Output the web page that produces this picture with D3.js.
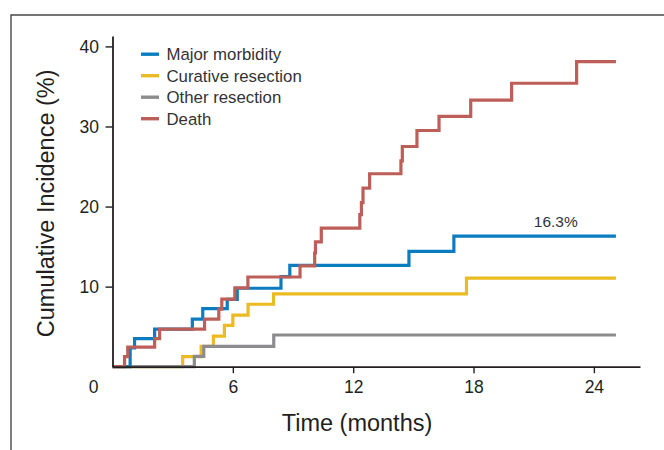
<!DOCTYPE html>
<html>
<head>
<meta charset="utf-8">
<script src="https://cdn.jsdelivr.net/npm/d3@7"></script>
<style>
  html, body { margin: 0; padding: 0; background: #fff; }
  svg { display: block; font-family: "Liberation Sans", Arial, sans-serif; }
</style>
</head>
<body>
<div id="chart"></div>
<script>
// step points [months, cumulative incidence %]
const majorMorbidity = [[0, 0], [0.88, 2.35], [1.1, 3.5], [2.1, 4.7], [3.98, 5.95], [4.5, 7.25],
  [5.72, 8.4], [6.22, 9.8], [8.4, 11.25], [8.84, 12.65], [14.78, 14.4], [17.02, 16.3]]
const curativeResection = [[0, 0], [3.5, 1.27], [4.42, 2.55], [5.03, 3.82], [5.58, 5.15], [6.0, 6.45],
  [6.76, 7.8], [8.03, 9.1], [17.65, 11.05]]
const otherResection = [[0, 0], [4.08, 1.3], [4.55, 2.55], [8.04, 3.96]]
const death = [[0, 0], [0.6, 1.25], [0.76, 2.45], [2.1, 3.5], [2.35, 4.7], [4.59, 5.95], [5.3, 7.2],
  [5.45, 8.45], [6.1, 9.85], [6.75, 11.2], [9.35, 12.6], [10.08, 14.2], [10.12, 15.6], [10.41, 17.3],
  [12.33, 19.0], [12.41, 20.5], [12.49, 22.3], [12.82, 24.1], [14.38, 25.7], [14.45, 27.5],
  [15.18, 29.5], [16.28, 31.25], [17.86, 33.3], [19.9, 35.4], [23.14, 38.1]]
const followUpEnd = 25.1

const seriesNames = ['Major morbidity', 'Curative resection', 'Other resection', 'Death']
const seriesColors = ['#0b7cc0', '#ebbb22', '#8c8c8e', '#bd5f58']
const xTicks = [0, 6, 12, 18, 24]
const yTicks = [10, 20, 30, 40]
const endLabel = '16.3%'

const width = 664, height = 450
const axisColor = '#231f20'

const svg = d3.create('svg')
  .attr('width', width)
  .attr('height', height)
  .attr('viewBox', [0, 0, width, height])

// outer frame (top and left edges only)
svg.append('path')
  .attr('d', `M11,${height} V15 H${width}`)
  .attr('fill', 'none')
  .attr('stroke', '#474747')
  .attr('stroke-width', 1.4)

const x = d3.scaleLinear()
  .domain([0, 26.3])
  .range([112.5, 640])

const y = d3.scaleLinear()
  .domain([0, 41.3])
  .range([366.7, 36])

// step lines, drawn bottom to top so red sits over the rest
const line = d3.line()
  .x(d => x(d[0]))
  .y(d => y(d[1]))
  .curve(d3.curveStepAfter)

const withEnd = pts => pts.concat([[followUpEnd, pts[pts.length - 1][1]]])
const drawOrder = [
  { data: curativeResection, color: seriesColors[1] },
  { data: otherResection, color: seriesColors[2] },
  { data: majorMorbidity, color: seriesColors[0] },
  { data: death, color: seriesColors[3] },
]

svg.append('g')
  .attr('fill', 'none')
  .attr('stroke-width', 3.2)
  .attr('stroke-linejoin', 'miter')
  .selectAll()
  .data(drawOrder)
  .join('path')
    .attr('stroke', d => d.color)
    .attr('d', d => line(withEnd(d.data)))

// Add x-axis
svg.append('g')
  .attr('transform', `translate(0,${y(0)})`)
  .call(d3.axisBottom(x).tickValues(xTicks).tickSize(6.5).tickPadding(7).tickSizeOuter(0))
  .call(g => g.select('.domain').attr('stroke', axisColor).attr('stroke-width', 1.8))
  .call(g => g.selectAll('.tick line').attr('stroke', axisColor).attr('stroke-width', 1.4))
  .call(g => g.selectAll('.tick text')
    .attr('font-size', 17.5)
    .attr('font-family', '"Liberation Sans", Arial, sans-serif')
    .attr('fill', axisColor))
  .call(g => g.selectAll('.tick').filter(d => d === 0).select('line').remove())
  .call(g => g.selectAll('.tick').filter(d => d === 0).select('text').attr('x', -19.5))

// Add y-axis
svg.append('g')
  .attr('transform', `translate(${x(0)},0)`)
  .call(d3.axisLeft(y).tickValues(yTicks).tickSize(7).tickPadding(6.5).tickSizeOuter(0))
  .call(g => g.select('.domain').attr('stroke', axisColor).attr('stroke-width', 1.8))
  .call(g => g.selectAll('.tick line').attr('stroke', axisColor).attr('stroke-width', 1.4))
  .call(g => g.selectAll('.tick text')
    .attr('font-size', 17.5)
    .attr('font-family', '"Liberation Sans", Arial, sans-serif')
    .attr('fill', axisColor))

// axis titles
svg.append('text')
  .attr('x', 357)
  .attr('y', 431)
  .attr('text-anchor', 'middle')
  .attr('font-size', 23.5)
  .attr('fill', axisColor)
  .text('Time (months)')

svg.append('text')
  .attr('transform', 'translate(54,203.3) rotate(-90)')
  .attr('text-anchor', 'middle')
  .attr('font-size', 23.5)
  .attr('fill', axisColor)
  .text('Cumulative Incidence (%)')

// final value for major morbidity
svg.append('text')
  .attr('x', x(22.1))
  .attr('y', 227.3)
  .attr('text-anchor', 'middle')
  .attr('font-size', 15.5)
  .attr('fill', '#333')
  .text(endLabel)

// Add legend
const legend = svg.append('g')
  .selectAll()
  .data(seriesNames)
  .join('g')
    .attr('transform', (d, i) => `translate(141,${54.2 + i * 21.5})`)

legend.append('line')
  .attr('x1', 0)
  .attr('x2', 18)
  .attr('stroke', (d, i) => seriesColors[i])
  .attr('stroke-width', 3.4)

legend.append('text')
  .attr('x', 25.5)
  .attr('dy', '0.36em')
  .attr('font-size', 16.8)
  .attr('fill', '#333')
  .text(d => d)

document.getElementById('chart').append(svg.node())
</script>
</body>
</html>
